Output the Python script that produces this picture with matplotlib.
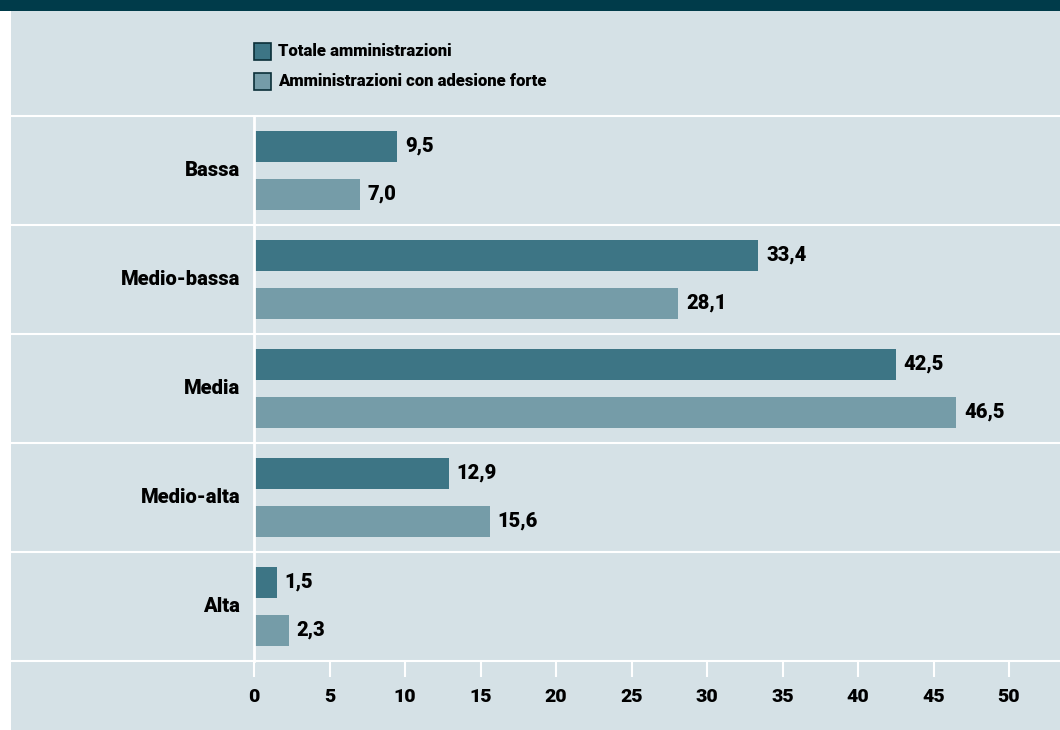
import matplotlib.pyplot as plt
from matplotlib.patches import Rectangle

categories = ["Bassa", "Medio-bassa", "Media", "Medio-alta", "Alta"]
totale = [9.5, 33.4, 42.5, 12.9, 1.5]
adesione_forte = [7.0, 28.1, 46.5, 15.6, 2.3]
series_names = ["Totale amministrazioni", "Amministrazioni con adesione forte"]
x_ticks = [0, 5, 10, 15, 20, 25, 30, 35, 40, 45, 50]

DARK = "#3d7585"
LIGHT = "#759ca8"
PANEL = "#d5e1e6"
BAND = "#003b4a"
W, H = 1060, 730
HEAVY = 900

plt.rcParams["font.family"] = ["Roboto", "DejaVu Sans"]

fig = plt.figure(figsize=(W / 100, H / 100), dpi=100)
fig.patch.set_facecolor("white")

# background panel and dark header band
fig.add_artist(Rectangle((11 / W, 0), 1 - 11 / W, 1, transform=fig.transFigure,
                         facecolor=PANEL, edgecolor="none", zorder=0))
fig.add_artist(Rectangle((0, 1 - 11 / H), 1, 11 / H, transform=fig.transFigure,
                         facecolor=BAND, edgecolor="none", zorder=0))

# axes: x=0 at px 254, 15.1 px per unit; plot rows span px 116..661
left, right, top, bottom = 254, 1060, 116, 661
ax = fig.add_axes([left / W, 1 - bottom / H, (right - left) / W, (bottom - top) / H])
ax.set_facecolor("none")
ax.set_xlim(0, (right - left) / 15.1)
ax.set_ylim(len(categories) - 0.5, -0.5)

ypos = list(range(len(categories)))
off, bh = 0.22, 0.285
ax.barh([y - off for y in ypos], totale, height=bh, color=DARK, zorder=2)
ax.barh([y + off for y in ypos], adesione_forte, height=bh, color=LIGHT, zorder=2)

for y, v in zip(ypos, totale):
    ax.annotate(f"{v:.1f}".replace(".", ","), (v, y - off), xytext=(8, 0),
                textcoords="offset pixels", va="center", ha="left",
                fontsize=14.5, fontweight=HEAVY, color="black")
for y, v in zip(ypos, adesione_forte):
    ax.annotate(f"{v:.1f}".replace(".", ","), (v, y + off), xytext=(8, 0),
                textcoords="offset pixels", va="center", ha="left",
                fontsize=14.5, fontweight=HEAVY, color="black")

# row separators stretching to the panel edge
xmin_frac = (11 - left) / (right - left)
for b in [y - 0.5 for y in ypos] + [len(categories) - 0.5]:
    ax.axhline(b, xmin=xmin_frac, xmax=1, color="white", lw=1.5, clip_on=False, zorder=1)

for y, name in zip(ypos, categories):
    ax.text(-14 / 15.1, y, name, ha="right", va="center", fontsize=14.5,
            fontweight=HEAVY, color="black")

for s in ["top", "right", "bottom"]:
    ax.spines[s].set_visible(False)
ax.spines["left"].set_color("white")
ax.spines["left"].set_linewidth(2)

ax.set_yticks([])
ax.set_xticks(x_ticks)
ax.set_xticklabels([str(t) for t in x_ticks])
ax.tick_params(axis="x", direction="out", length=11.5, width=1.5, color="white",
               pad=8, labelsize=14)
for lbl in ax.get_xticklabels():
    lbl.set_fontweight(HEAVY)

# legend drawn by hand: two boxed swatches with labels
for i, (name, col) in enumerate(zip(series_names, [DARK, LIGHT])):
    y0 = 42 + i * 30
    fig.add_artist(Rectangle((254 / W, 1 - (y0 + 18) / H), 17 / W, 17 / H,
                             transform=fig.transFigure, facecolor=col,
                             edgecolor="#0b2f38", lw=1.2, zorder=3))
    fig.text(278 / W, 1 - (y0 + 9) / H, name, ha="left", va="center",
             fontsize=12, fontweight=HEAVY, color="black")

fig.savefig("out.png", dpi=100, facecolor=fig.get_facecolor())
